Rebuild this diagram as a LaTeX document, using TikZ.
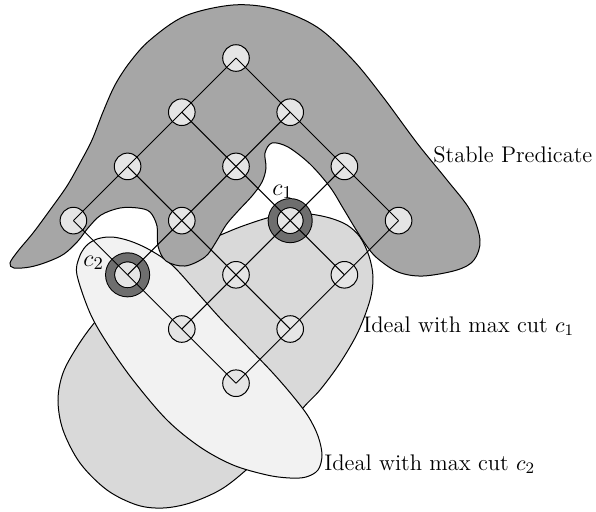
\documentclass[tikz,border=0pt]{standalone}
\definecolor{stablefill}{gray}{0.65}
\definecolor{idealone}{gray}{0.85}
\definecolor{idealtwo}{gray}{0.95}
\definecolor{vtxfill}{gray}{0.9}
\definecolor{cutring}{gray}{0.43}
\begin{document}
\begin{tikzpicture}[x=0.5pt,y=-0.5pt,
  region/.style={draw=black,line width=0.5pt},
  vtx/.style={circle,draw=black,fill=vtxfill,line width=0.5pt,minimum size=13.3pt,inner sep=0pt},
  cutmark/.style={circle,draw=black,line width=0.5pt,double=cutring,double distance=4pt,minimum size=17.5pt,inner sep=0pt},
  edge/.style={draw=black,line width=0.5pt},
  lbl/.style={inner sep=0pt,font=\fontsize{11.3}{13}\selectfont},
  cutlbl/.style={inner sep=0pt,font=\fontsize{13}{15}\selectfont}]
\useasboundingbox (0,0) rectangle (596,511);

% ideal with max cut c1
\filldraw[region,fill=idealone] plot[smooth cycle,tension=0.55] coordinates {
  (218,236) (240,227) (267,218) (290,213) (310,214) (330,218) (347,225)
  (360,237) (369,256) (373,277) (370,300) (358,332) (340,363) (320,390)
  (303,408) (278,440) (245,471) (220,490) (190,503) (163,508) (137,505)
  (107,490) (80,463) (63,430) (58,400) (63,373) (77,347) (95,322)
  (125,288) (160,262) (192,246)};

% ideal with max cut c2
\filldraw[region,fill=idealtwo] plot[smooth cycle,tension=0.55] coordinates {
  (77,275) (79,258) (86,246) (97,239) (112,237) (130,241) (150,250)
  (172,265) (195,290) (220,318) (247,346) (272,372) (292,395) (308,416)
  (318,436) (322,455) (318,470) (306,477) (290,478) (267,475) (233,465)
  (200,447) (167,420) (133,380) (107,343) (90,313)};

% stable predicate
\filldraw[region,fill=stablefill] plot[smooth cycle,tension=0.55] coordinates {
  (233,5) (275,9) (317,27) (353,60) (383,97) (417,143) (447,180) (470,210)
  (480,240) (474,260) (457,270) (423,276) (398,272) (377,258) (366,245)
  (355,228) (343,208) (330,187) (310,164) (288,147) (272,143) (265,153)
  (266,168) (262,182) (252,196) (238,211) (226,225) (216,242) (205,257)
  (185,266) (166,261) (158,246) (157,226) (150,212) (138,208) (120,208)
  (101,215) (88,228) (78,241) (64,254) (47,262) (30,267) (14,268) (10,263)
  (18,251) (33,233) (50,210) (67,186) (80,163) (92,140) (103,112) (115,85)
  (130,62) (150,40) (185,16)};

% lattice vertices
\foreach \i in {0,...,3}{
  \foreach \j in {0,...,3}{
    \node[vtx] (n\i\j) at ({236+54.2*(\j-\i)},{58+54.2*(\i+\j)}) {};
  }
}
\node[cutmark] (ring1) at (n12) {};
\node[cutmark] (ring2) at (n31) {};

% lattice edges
\foreach \i in {0,...,3}{
  \foreach \j [evaluate=\j as \k using int(\j+1)] in {0,1,2}{
    \draw[edge] (n\i\j.center) -- (n\i\k.center);
    \draw[edge] (n\j\i.center) -- (n\k\i.center);
  }
}

% labels
\node[cutlbl,anchor=base west] (c1) at (272,195) {$c_1$};
\node[cutlbl,anchor=base west] (c2) at (83,266) {$c_2$};
\node[lbl,anchor=base west] (stable) at (433,162) {Stable Predicate};
\node[lbl,anchor=base west] (ideal1) at (363,332) {Ideal with max cut $c_1$};
\node[lbl,anchor=base west] (ideal2) at (324,470) {Ideal with max cut $c_2$};
\end{tikzpicture}
\end{document}
